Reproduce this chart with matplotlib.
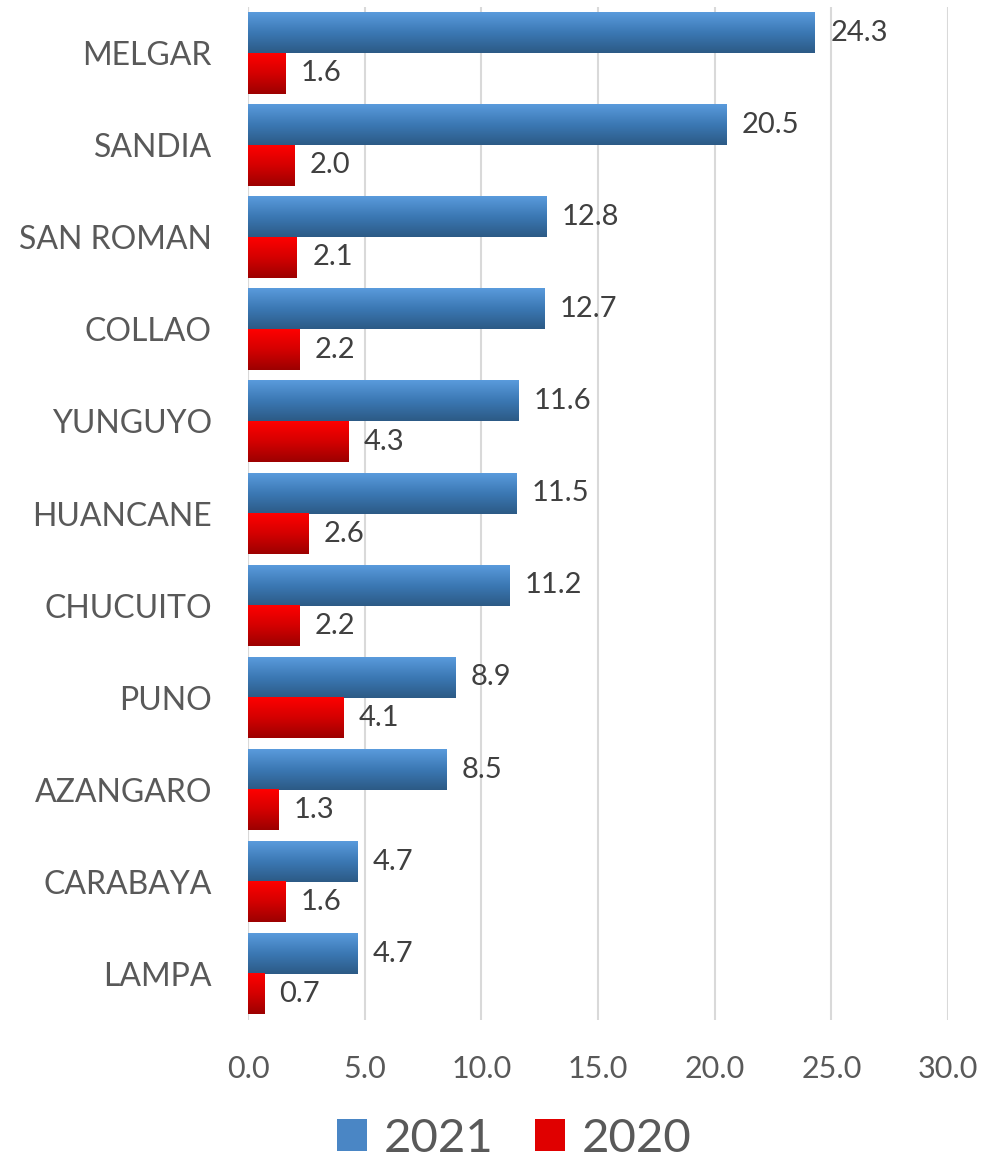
import numpy as np
import matplotlib
matplotlib.use("Agg")
from matplotlib import pyplot as plt
from matplotlib.colors import LinearSegmentedColormap
from matplotlib.patches import Rectangle

provinces = ['MELGAR', 'SANDIA', 'SAN ROMAN', 'COLLAO', 'YUNGUYO', 'HUANCANE',
             'CHUCUITO', 'PUNO', 'AZANGARO', 'CARABAYA', 'LAMPA']
vals_2021 = [24.3, 20.5, 12.8, 12.7, 11.6, 11.5, 11.2, 8.9, 8.5, 4.7, 4.7]
vals_2020 = [1.6, 2.0, 2.1, 2.2, 4.3, 2.6, 2.2, 4.1, 1.3, 1.6, 0.7]
xticks = [0, 5, 10, 15, 20, 25, 30]

plt.rcParams['font.family'] = ['Lato', 'DejaVu Sans']

blue_cm = LinearSegmentedColormap.from_list('b', ['#5a9bdc', '#3b78b4', '#2c5a85'])
red_cm = LinearSegmentedColormap.from_list('r', ['#ff0000', '#d40000', '#9c0000'])
grad = np.linspace(0, 1, 256).reshape(-1, 1)


def paint(ax, bars, cmap):
    for b in bars:
        x0, y0 = b.get_x(), b.get_y()
        w, h = b.get_width(), b.get_height()
        b.set_facecolor('none')
        ax.imshow(grad, cmap=cmap, aspect='auto', origin='upper',
                  extent=[x0, x0 + w, y0 + h, y0], zorder=2, interpolation='bilinear')


fig = plt.figure(figsize=(9.87, 11.66), dpi=100)
ax = fig.add_axes([0.2513, 0.1252, 0.7092, 0.8688])

y = np.arange(len(provinces))
h = 0.44
b1 = ax.barh(y - h / 2, vals_2021, height=h, zorder=2, linewidth=0)
b2 = ax.barh(y + h / 2, vals_2020, height=h, zorder=2, linewidth=0)
paint(ax, b1, blue_cm)
paint(ax, b2, red_cm)

for i in range(len(provinces)):
    ax.text(vals_2021[i] + 0.65, y[i] - h / 2, '%.1f' % vals_2021[i], va='center',
            ha='left', fontsize=21, color='#404040')
    ax.text(vals_2020[i] + 0.65, y[i] + h / 2, '%.1f' % vals_2020[i], va='center',
            ha='left', fontsize=21, color='#404040')

ax.set_xlim(0, 30)
ax.set_ylim(len(provinces) - 0.5, -0.5)
ax.set_yticks(y)
ax.set_yticklabels(provinces, fontsize=23, color='#595959')
ax.set_xticks(xticks)
ax.set_xticklabels(['%.1f' % t for t in xticks], fontsize=22, color='#595959')
ax.tick_params(axis='both', length=0)
ax.tick_params(axis='y', pad=26)
ax.tick_params(axis='x', pad=25)
ax.grid(axis='x', color='#d9d9d9', linewidth=1.5, zorder=0)
ax.set_axisbelow(True)
for s in ax.spines.values():
    s.set_visible(False)
ax.axvline(0, color='#d9d9d9', linewidth=1.5, zorder=1)

handles = [Rectangle((0, 0), 1, 1, facecolor='#4a86c5'),
           Rectangle((0, 0), 1, 1, facecolor='#e00000')]
fig.legend(handles, ['2021', '2020'], loc='lower center', bbox_to_anchor=(0.521, -0.031),
           ncol=2, frameon=False, fontsize=34, labelcolor='#595959',
           handlelength=0.65, handleheight=0.65, handletextpad=0.35, columnspacing=0.87)

fig.savefig('out.png', dpi=100)
